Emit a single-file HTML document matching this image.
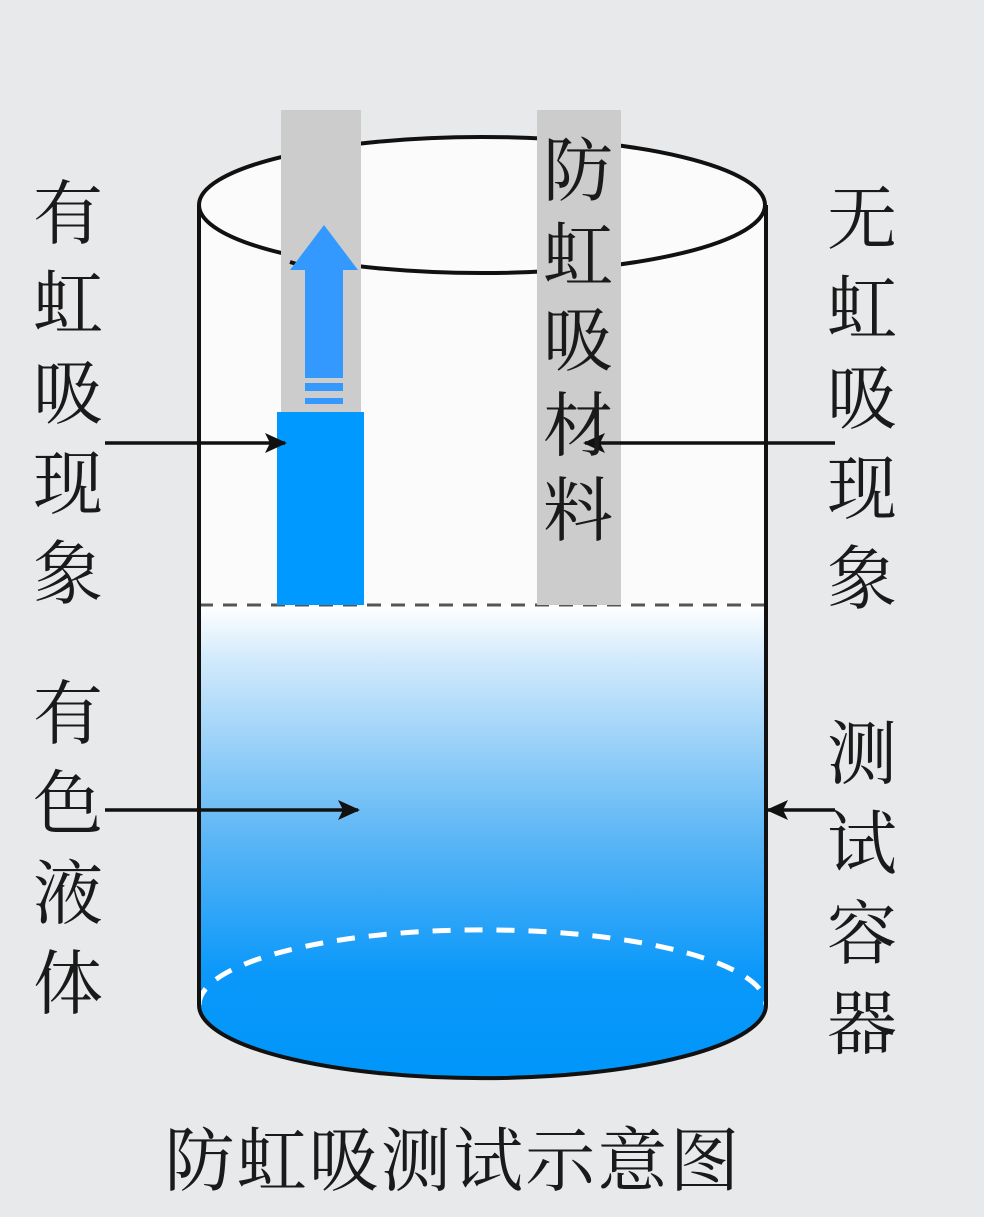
<!DOCTYPE html>
<html><head><meta charset="utf-8"><style>
body{margin:0;background:#e8e9eb;}
svg{display:block}
text{font-family:"Liberation Serif","Noto Serif CJK SC",serif;fill:#1a1a1a;}
</style></head><body>
<svg width="984" height="1217" viewBox="0 0 984 1217">
<defs>
<linearGradient id="liq" x1="0" y1="0" x2="0" y2="1">
<stop offset="0" stop-color="#ffffff"/>
<stop offset="0.12" stop-color="#d0e9fb"/>
<stop offset="0.5" stop-color="#5ab5f5"/>
<stop offset="0.78" stop-color="#0a98fa"/>
<stop offset="1" stop-color="#0096fa"/>
</linearGradient>
<marker id="ah" markerWidth="22" markerHeight="22" refX="20" refY="11" orient="auto" markerUnits="userSpaceOnUse">
<path d="M0,1 L22,11 L0,21 L5,11 Z" fill="#111"/>
</marker>
</defs>
<rect width="984" height="1217" fill="#e8e9eb"/>
<!-- cylinder body -->
<ellipse cx="482" cy="205" rx="283" ry="68" fill="#fbfbfb"/>
<path d="M199,205 L199,1005 A283,73 0 0 0 766,1005 L766,205 Z" fill="#fbfbfb"/>
<path d="M199,605 L766,605 L766,1005 A283,73 0 0 1 199,1005 Z" fill="url(#liq)"/>
<path d="M199,1005 A283,75 0 0 1 766,1005" fill="none" stroke="#fff" stroke-width="5" stroke-dasharray="18,14"/>
<line x1="199" y1="605" x2="766" y2="605" stroke="#555" stroke-width="3" stroke-dasharray="14,10"/>
<!-- cylinder outline -->
<ellipse cx="482" cy="205" rx="283" ry="68" fill="none" stroke="#111" stroke-width="4"/>
<path d="M199,205 L199,1005 A283,73 0 0 0 766,1005 L766,205" fill="none" stroke="#111" stroke-width="4"/>
<!-- strips -->
<rect x="281" y="110" width="80" height="495" fill="#cccccc"/>
<rect x="277" y="412" width="87" height="193" fill="#0099ff"/>
<rect x="537" y="110" width="84" height="495" fill="#cccccc"/>
<!-- front rim across left strip -->
<path d="M290,262 A283,68 0 0 0 300,265" fill="none" stroke="#111" stroke-width="4"/>
<!-- up arrow -->
<polygon points="324,225 358,270 343,270 343,378 305,378 305,270 290,270" fill="#3399ff"/>
<rect x="305" y="383" width="38" height="8" fill="#3399ff"/>
<rect x="305" y="398" width="38" height="6" fill="#3399ff"/>
<!-- arrows -->
<g stroke="#111" stroke-width="3.5">
<line x1="105" y1="443" x2="285" y2="443" marker-end="url(#ah)"/>
<line x1="835" y1="443" x2="585" y2="443" marker-end="url(#ah)"/>
<line x1="105" y1="810" x2="358" y2="810" marker-end="url(#ah)"/>
<line x1="835" y1="810" x2="768" y2="810" marker-end="url(#ah)"/>
</g>
<!-- labels -->
<g font-size="70" text-anchor="middle">
<text x="68" y="238">有</text><text x="68" y="328">虹</text><text x="68" y="418">吸</text><text x="68" y="508">现</text><text x="68" y="598">象</text>
<text x="68" y="738">有</text><text x="68" y="828">色</text><text x="68" y="918">液</text><text x="68" y="1008">体</text>
<text x="862" y="243">无</text><text x="862" y="333">虹</text><text x="862" y="423">吸</text><text x="862" y="513">现</text><text x="862" y="603">象</text>
<text x="862" y="778">测</text><text x="862" y="868">试</text><text x="862" y="958">容</text><text x="862" y="1048">器</text>
<text x="578" y="195">防</text><text x="578" y="280">虹</text><text x="578" y="365">吸</text><text x="578" y="450">材</text><text x="578" y="535">料</text>
</g>
<text x="452" y="1185" font-size="70" text-anchor="middle" textLength="575">防虹吸测试示意图</text>
</svg>
</body></html>
